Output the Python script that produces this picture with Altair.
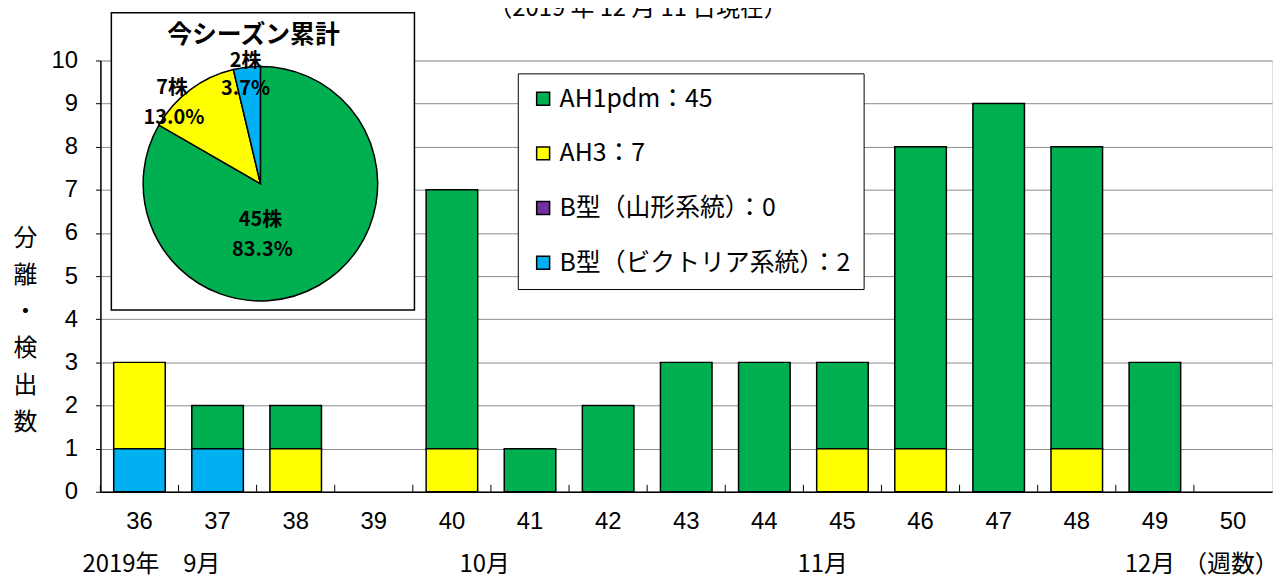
import altair as alt
import pandas as pd

# ---------------- data ----------------
weeks = [str(w) for w in range(36, 51)]
ah1pdm = [0, 1, 1, 0, 6, 1, 2, 3, 3, 2, 7, 9, 7, 3, 0]
ah3    = [2, 0, 1, 0, 1, 0, 0, 0, 0, 1, 1, 0, 1, 0, 0]
b_yam  = [0, 0, 0, 0, 0, 0, 0, 0, 0, 0, 0, 0, 0, 0, 0]
b_vic  = [1, 1, 0, 0, 0, 0, 0, 0, 0, 0, 0, 0, 0, 0, 0]

series_names = ["AH1pdm", "AH3", "B型（山形系統）", "B型（ビクトリア系統）"]
series_colors = ["#00B050", "#FFFF00", "#7030A0", "#00B0F0"]
stack_rank = [3, 2, 1, 0]      # 0 = bottom of the stack
pie_rank = [0, 1, 2, 3]        # clockwise from 12 o'clock

month_labels = ["2019年　9月", "10月", "11月", "12月", "（週数）"]
month_weeks = ["36", "40", "45", "49", "50"]
month_dx = [12, 33, -20, -5, -2]

title_text = "（2019 年 12 月 11 日現在）"
pie_title = "今シーズン累計"

# ---------------- tables ----------------
series_values = [ah1pdm, ah3, b_yam, b_vic]
totals = [sum(v) for v in series_values]
grand = sum(totals)
legend_labels = [f"{n}：{t}" for n, t in zip(series_names, totals)]

rows = []
for name, vals, rank in zip(legend_labels, series_values, stack_rank):
    for w, v in zip(weeks, vals):
        if v > 0:
            rows.append({"week": w, "series": name, "value": v, "ord": rank})
bars_df = pd.DataFrame(rows)

pie_df = pd.DataFrame({"series": legend_labels, "count": totals, "ord": pie_rank})
pie_df = pie_df[pie_df["count"] > 0]

NUM_FONT = "Liberation Sans Narrow, Liberation Sans, sans-serif"
JP_FONT = "Noto Sans CJK JP"

W, H = 1179, 434
one = pd.DataFrame({"a": [0]})

color_enc = alt.Color(
    "series:N",
    scale=alt.Scale(domain=legend_labels, range=series_colors),
    legend=alt.Legend(
        title=None, orient="none", legendX=420, legendY=13, direction="vertical",
        symbolType="square", symbolSize=170, symbolStrokeColor="black",
        symbolStrokeWidth=1.5, labelFont=JP_FONT, labelFontSize=25, labelLimit=500,
        labelColor="black", rowPadding=29, padding=13, strokeColor="black",
        fillColor="white", labelOffset=4,
    ),
)

x_axis = alt.Axis(title=None, labelAngle=0, ticks=False, labelPadding=18,
                  labelFont=NUM_FONT, labelFontSize=24, labelColor="black",
                  domainColor="black", domainWidth=1.5)
x_scale = alt.Scale(domain=weeks, paddingInner=0.34, paddingOuter=0.17)

bars = alt.Chart(bars_df).mark_bar(stroke="black", strokeWidth=1.5).encode(
    x=alt.X("week:N", sort=weeks, scale=x_scale, axis=x_axis),
    y=alt.Y("value:Q", stack="zero",
            scale=alt.Scale(domain=[0, 10], nice=False),
            axis=alt.Axis(values=list(range(11)), title=list("分離・検出数"),
                          titleAngle=0, titleAlign="center", titleBaseline="top",
                          titleX=-76, titleY=167, titleFont=JP_FONT, titleFontSize=24,
                          titleFontWeight="normal", titleLineHeight=37, titleColor="black",
                          labelFont=NUM_FONT, labelFontSize=24, labelColor="black",
                          labelPadding=18, tickSize=5, tickColor="black",
                          domainColor="black", domainWidth=1.5,
                          grid=True, gridColor="#8c8c8c", gridWidth=1)),
    color=color_enc,
    order=alt.Order("ord:Q", sort="ascending"),
)

ticks_df = pd.DataFrame({"week": weeks})
inner_ticks = alt.Chart(ticks_df).mark_rule(color="black", strokeWidth=1, xOffset=-13.4).encode(
    x=alt.X("week:N", sort=weeks, bandPosition=0, scale=x_scale, axis=x_axis),
    y=alt.value(H - 7), y2=alt.value(H),
)

month_layers = []
for lab, wk, dx in zip(month_labels, month_weeks, month_dx):
    mdf = pd.DataFrame({"week": [wk], "label": [lab]})
    month_layers.append(
        alt.Chart(mdf).mark_text(font=JP_FONT, fontSize=24, color="black", dx=dx,
                                 baseline="middle", align="center").encode(
            x=alt.X("week:N", sort=weeks, scale=x_scale, axis=x_axis),
            y=alt.value(H + 74),
            text="label:N",
        )
    )

top_title = alt.Chart(one).mark_text(font=JP_FONT, fontSize=24, color="black",
                                     baseline="bottom", align="center").encode(
    x=alt.value(541), y=alt.value(-40), text=alt.value(title_text))

pie_box = alt.Chart(one).mark_rect(fill="white", stroke="black", strokeWidth=1.5).encode(
    x=alt.value(11), x2=alt.value(316), y=alt.value(-48), y2=alt.value(251))

pie = alt.Chart(pie_df).mark_arc(radius=118, stroke="black", strokeWidth=1.5).encode(
    theta=alt.Theta("count:Q", stack=True),
    color=color_enc,
    order=alt.Order("ord:Q", sort="ascending"),
    x=alt.value(161), y=alt.value(124),
)

pie_title_layer = alt.Chart(one).mark_text(font=JP_FONT, fontSize=25, fontWeight="bold",
                                           color="black", baseline="middle").encode(
    x=alt.value(154), y=alt.value(-26), text=alt.value(pie_title))

# labels inside/near the pie: count and percentage per slice
lab_pos = {0: [(161, 161), (163, 191)], 1: [(72, 28), (74, 58)], 3: [(146, 1), (146, 29)]}
pie_text_layers = []
for i in [0, 1, 3]:
    cnt = totals[i]
    pct = f"{cnt / grand * 100:.1f}%"
    for txt, (px, py) in zip([f"{cnt}株", pct], lab_pos[i]):
        pie_text_layers.append(
            alt.Chart(one).mark_text(font=JP_FONT, fontSize=20, fontWeight="bold",
                                     color="black", baseline="middle").encode(
                x=alt.value(px), y=alt.value(py), text=alt.value(txt))
        )

chart = alt.layer(
    bars, inner_ticks, *month_layers, top_title, pie_box, pie, pie_title_layer, *pie_text_layers
).properties(
    width=W, height=H,
    padding={"left": 93, "top": 51, "right": 8, "bottom": 88},
    autosize=alt.AutoSizeParams(type="none"),
).configure_view(stroke="black", strokeWidth=1.5
).configure(background="white")

chart.save("out.html", embed_options={"renderer": "svg", "actions": False})
